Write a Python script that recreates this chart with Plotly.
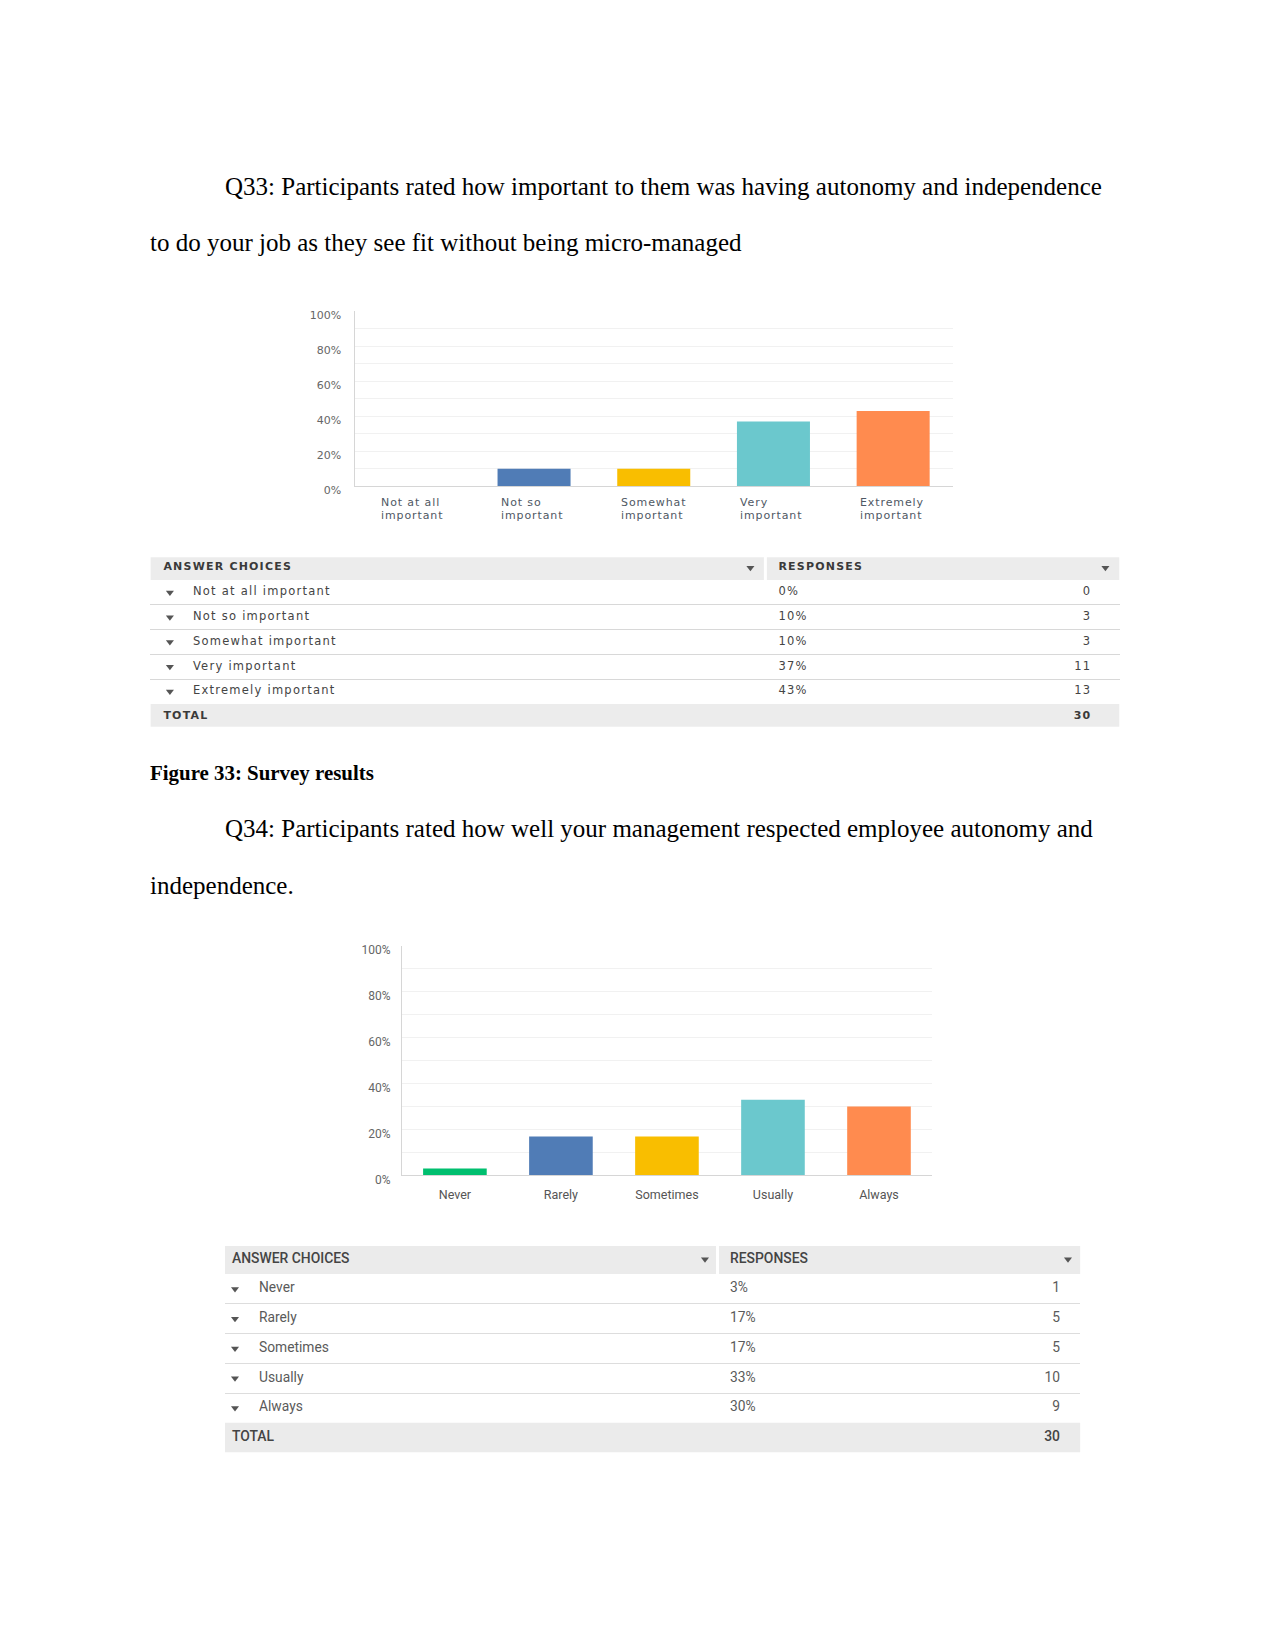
import plotly.graph_objects as go

W, H = 1275, 1650

# ---------------- data ----------------
q33_labels = ["Not at all important", "Not so important", "Somewhat important",
              "Very important", "Extremely important"]
q33_axis_labels = ["Not at all<br>important", "Not so<br>important", "Somewhat<br>important",
                   "Very<br>important", "Extremely<br>important"]
q33_percent = [0, 10, 10, 37, 43]
q33_counts = [0, 3, 3, 11, 13]
q33_total = 30

q34_labels = ["Never", "Rarely", "Sometimes", "Usually", "Always"]
q34_percent = [3, 17, 17, 33, 30]
q34_counts = [1, 5, 5, 10, 9]
q34_total = 30

q33_colors = ["#00BF6F", "#507CB6", "#F9BE00", "#6BC8CD", "#FF8B4F"]
q34_colors = ["#00BF6F", "#507CB6", "#F9BE00", "#6BC8CD", "#FF8B4F"]

y_tick_vals = [0, 20, 40, 60, 80, 100]
y_tick_text = ["0%", "20%", "40%", "60%", "80%", "100%"]
y_minor_vals = [10, 30, 50, 70, 90]

para_q33 = ["Q33: Participants rated how important to them was having autonomy and independence",
            "to do your job as they see fit without being micro-managed"]
caption = "Figure 33: Survey results"
para_q34 = ["Q34: Participants rated how well your management respected employee autonomy and",
            "independence."]


def xp(px):
    return px / W


def yp(py):
    return 1 - py / H


def ls(text, spacing):
    return '<span style="letter-spacing:%spx">%s</span>' % (spacing, text)


fig = go.Figure()

F1 = "DejaVu Sans"
# ---------------- chart Q33 ----------------
fig.add_trace(go.Bar(x=q33_labels, y=q33_percent, marker=dict(color=q33_colors, line=dict(width=0)),
                     width=0.61, xaxis="x", yaxis="y", showlegend=False, hoverinfo="skip"))

# ---------------- chart Q34 ----------------
fig.add_trace(go.Bar(x=q34_labels, y=q34_percent, marker=dict(color=q34_colors, line=dict(width=0)),
                     width=0.6, xaxis="x3", yaxis="y3", showlegend=False, hoverinfo="skip"))


# ---------------- tables ----------------
def add_table(xr, yr, width, split, pos, labels, percents, counts, total, font, hfont, fill):
    fig.add_trace(go.Bar(orientation="h", y=[0, 0, 6],
                         base=[0, split + 1.5, 0],
                         x=[split - 1.5, width - split - 1.5, width],
                         width=1, marker=dict(color=fill, line=dict(width=0)),
                         xaxis=xr, yaxis=yr, showlegend=False, hoverinfo="skip"))
    rows = list(range(1, len(labels) + 1))
    fig.add_trace(go.Scatter(x=[pos["hdr"], pos["resp"]], y=[0, 0], mode="text",
                             text=[hfont["fmt"]("ANSWER CHOICES"), hfont["fmt"]("RESPONSES")],
                             textposition="middle right", textfont=hfont["font"],
                             xaxis=xr, yaxis=yr, showlegend=False, hoverinfo="skip"))
    fig.add_trace(go.Scatter(x=[pos["htri1"], pos["htri2"]] + [pos["rtri"]] * len(rows),
                             y=[0, 0] + rows, mode="markers",
                             marker=dict(symbol="triangle-down", size=pos["tsize"], color="#555555",
                                         line=dict(width=0)),
                             xaxis=xr, yaxis=yr, showlegend=False, hoverinfo="skip"))
    fig.add_trace(go.Scatter(x=[pos["label"]] * len(rows), y=rows, mode="text",
                             text=[font["fmt"](t) for t in labels], textposition="middle right",
                             textfont=font["font"], xaxis=xr, yaxis=yr, showlegend=False, hoverinfo="skip"))
    fig.add_trace(go.Scatter(x=[pos["resp"]] * len(rows), y=rows, mode="text",
                             text=[font["fmt"]("%d%%" % p) for p in percents], textposition="middle right",
                             textfont=font["font"], xaxis=xr, yaxis=yr, showlegend=False, hoverinfo="skip"))
    fig.add_trace(go.Scatter(x=[pos["count"]] * len(rows), y=rows, mode="text",
                             text=[font["fmt"](str(c)) for c in counts], textposition="middle left",
                             textfont=font["font"], xaxis=xr, yaxis=yr, showlegend=False, hoverinfo="skip"))
    fig.add_trace(go.Scatter(x=[pos["count"]], y=[6], mode="text", text=[hfont["fmt"](str(total))],
                             textposition="middle left", textfont=hfont["font"],
                             xaxis=xr, yaxis=yr, showlegend=False, hoverinfo="skip"))
    fig.add_trace(go.Scatter(x=[pos["hdr"]], y=[6], mode="text", text=[hfont["fmt"]("TOTAL")],
                             textposition="middle right", textfont=hfont["font"],
                             xaxis=xr, yaxis=yr, showlegend=False, hoverinfo="skip"))


t1_left, t1_right = 150.4, 1119.5
t1_w = t1_right - t1_left
add_table("x2", "y2", t1_w, 615,
          dict(hdr=13, resp=628, htri1=600, htri2=955, rtri=19.5, label=42.5, count=941, tsize=7),
          q33_labels, q33_percent, q33_counts, q33_total,
          font=dict(font=dict(family=F1, size=11.5, color="#444444"), fmt=lambda t: ls(t, 1.25)),
          hfont=dict(font=dict(family=F1, size=11, color="#3a3a3a", weight="bold"), fmt=lambda t: ls(t, 1.2)),
          fill="#ececec")

t2_left, t2_right = 225, 1080.4
t2_w = t2_right - t2_left
add_table("x4", "y4", t2_w, 492.5,
          dict(hdr=7, resp=505, htri1=480, htri2=843, rtri=10, label=34, count=835, tsize=7),
          q34_labels, q34_percent, q34_counts, q34_total,
          font=dict(font=dict(family="Roboto", size=13.8, color="#5a5a5a"), fmt=lambda t: t),
          hfont=dict(font=dict(family="Roboto", size=13.9, color="#444444", weight=500), fmt=lambda t: t),
          fill="#ebebeb")

# ---------------- annotations (page text + chart 1 category labels) ----------------
ann = []
serif = dict(family="Liberation Serif", size=25, color="#000000")
q33_y = [185.0, 241.8]
q34_y = [833.0, 890.0]
for i, line in enumerate(para_q33):
    x0 = 223 if i == 0 else 148.4
    ann.append(dict(text=line, x=xp(x0), y=yp(q33_y[i]), xref="paper", yref="paper",
                    xanchor="left", yanchor="middle", showarrow=False, font=serif))
ann.append(dict(text="<b>%s</b>" % caption, x=xp(148.4), y=yp(776.5), xref="paper", yref="paper",
                xanchor="left", yanchor="middle", showarrow=False,
                font=dict(family="Liberation Serif", size=20.9, color="#000000")))
for i, line in enumerate(para_q34):
    x0 = 223 if i == 0 else 148.4
    ann.append(dict(text=line, x=xp(x0), y=yp(q34_y[i]), xref="paper", yref="paper",
                    xanchor="left", yanchor="middle", showarrow=False, font=serif))
for lab, txt in zip(q33_axis_labels and q33_labels, q33_axis_labels):
    for j, part in enumerate(txt.split("<br>")):
        ann.append(dict(text=ls(part, 0.9), x=lab, y=0, xref="x", yref="y",
                        xanchor="left", yanchor="middle", xshift=-35, yshift=-16.5 - 12.2 * j,
                        align="left", showarrow=False,
                        font=dict(family=F1, size=11, color="#4f5864")))

axis_line = "#d6d6d6"
grid = "#f1f1f1"

c1_top, c1_bot = 311.0, 487.5
t1_top, t1_bot = 559.0, 730.0

fig.update_layout(
    width=W, height=H, margin=dict(l=0, r=0, t=0, b=0),
    paper_bgcolor="white", plot_bgcolor="white",
    barmode="overlay", showlegend=False, annotations=ann,
    # chart Q33
    xaxis=dict(domain=[xp(354.5), xp(953)], showticklabels=False, ticks="", showgrid=False,
               showline=True, linecolor=axis_line, linewidth=1, categoryorder="array",
               categoryarray=q33_labels, fixedrange=True),
    yaxis=dict(domain=[yp(c1_bot), yp(c1_top)], range=[0, 100], tickvals=y_tick_vals, ticktext=y_tick_text,
               showgrid=True, gridcolor=grid, gridwidth=1,
               minor=dict(tickvals=y_minor_vals, showgrid=True, gridcolor=grid, gridwidth=1, ticks=""),
               showline=True, linecolor=axis_line, linewidth=1, zeroline=False, ticks="",
               tickfont=dict(family=F1, size=11, color="#666666"), ticklabelstandoff=10,
               ticklabelshift=4, fixedrange=True),
    # table Q33
    xaxis2=dict(domain=[xp(t1_left), xp(t1_right)], range=[0, t1_w], visible=False, fixedrange=True),
    yaxis2=dict(domain=[yp(t1_bot), yp(t1_top)], range=[6.42, -0.42], tickvals=[1.5, 2.5, 3.5, 4.5],
                showticklabels=False, ticks="", showgrid=True, gridcolor="#d8d8d8", gridwidth=1,
                zeroline=False, showline=False, fixedrange=True, anchor="x2"),
    # chart Q34
    xaxis3=dict(domain=[xp(401.9), xp(932)], ticks="", showgrid=False, anchor="y3",
                showline=True, linecolor=axis_line, linewidth=1, categoryorder="array",
                categoryarray=q34_labels, tickfont=dict(family="Roboto", size=12.5, color="#555555"),
                ticklabelstandoff=8, fixedrange=True),
    yaxis3=dict(domain=[yp(1182.5), yp(951)], range=[0, 100], tickvals=y_tick_vals, ticktext=y_tick_text,
                showgrid=True, gridcolor=grid, gridwidth=1, anchor="x3",
                minor=dict(tickvals=y_minor_vals, showgrid=True, gridcolor=grid, gridwidth=1, ticks=""),
                showline=True, linecolor=axis_line, linewidth=1, zeroline=False, ticks="",
                tickfont=dict(family="Roboto", size=12, color="#666666"), ticklabelstandoff=8,
                ticklabelshift=4, fixedrange=True),
    # table Q34
    xaxis4=dict(domain=[xp(t2_left), xp(t2_right)], range=[0, t2_w], visible=False, anchor="y4",
                fixedrange=True),
    yaxis4=dict(domain=[yp(1462.0), yp(1253.7)], range=[6.5, -0.44], tickvals=[1.5, 2.5, 3.5, 4.5],
                showticklabels=False, ticks="", showgrid=True, gridcolor="#dddddd", gridwidth=1,
                zeroline=False, showline=False, fixedrange=True, anchor="x4"),
)

fig.write_html("out.html", config={"displayModeBar": False})
